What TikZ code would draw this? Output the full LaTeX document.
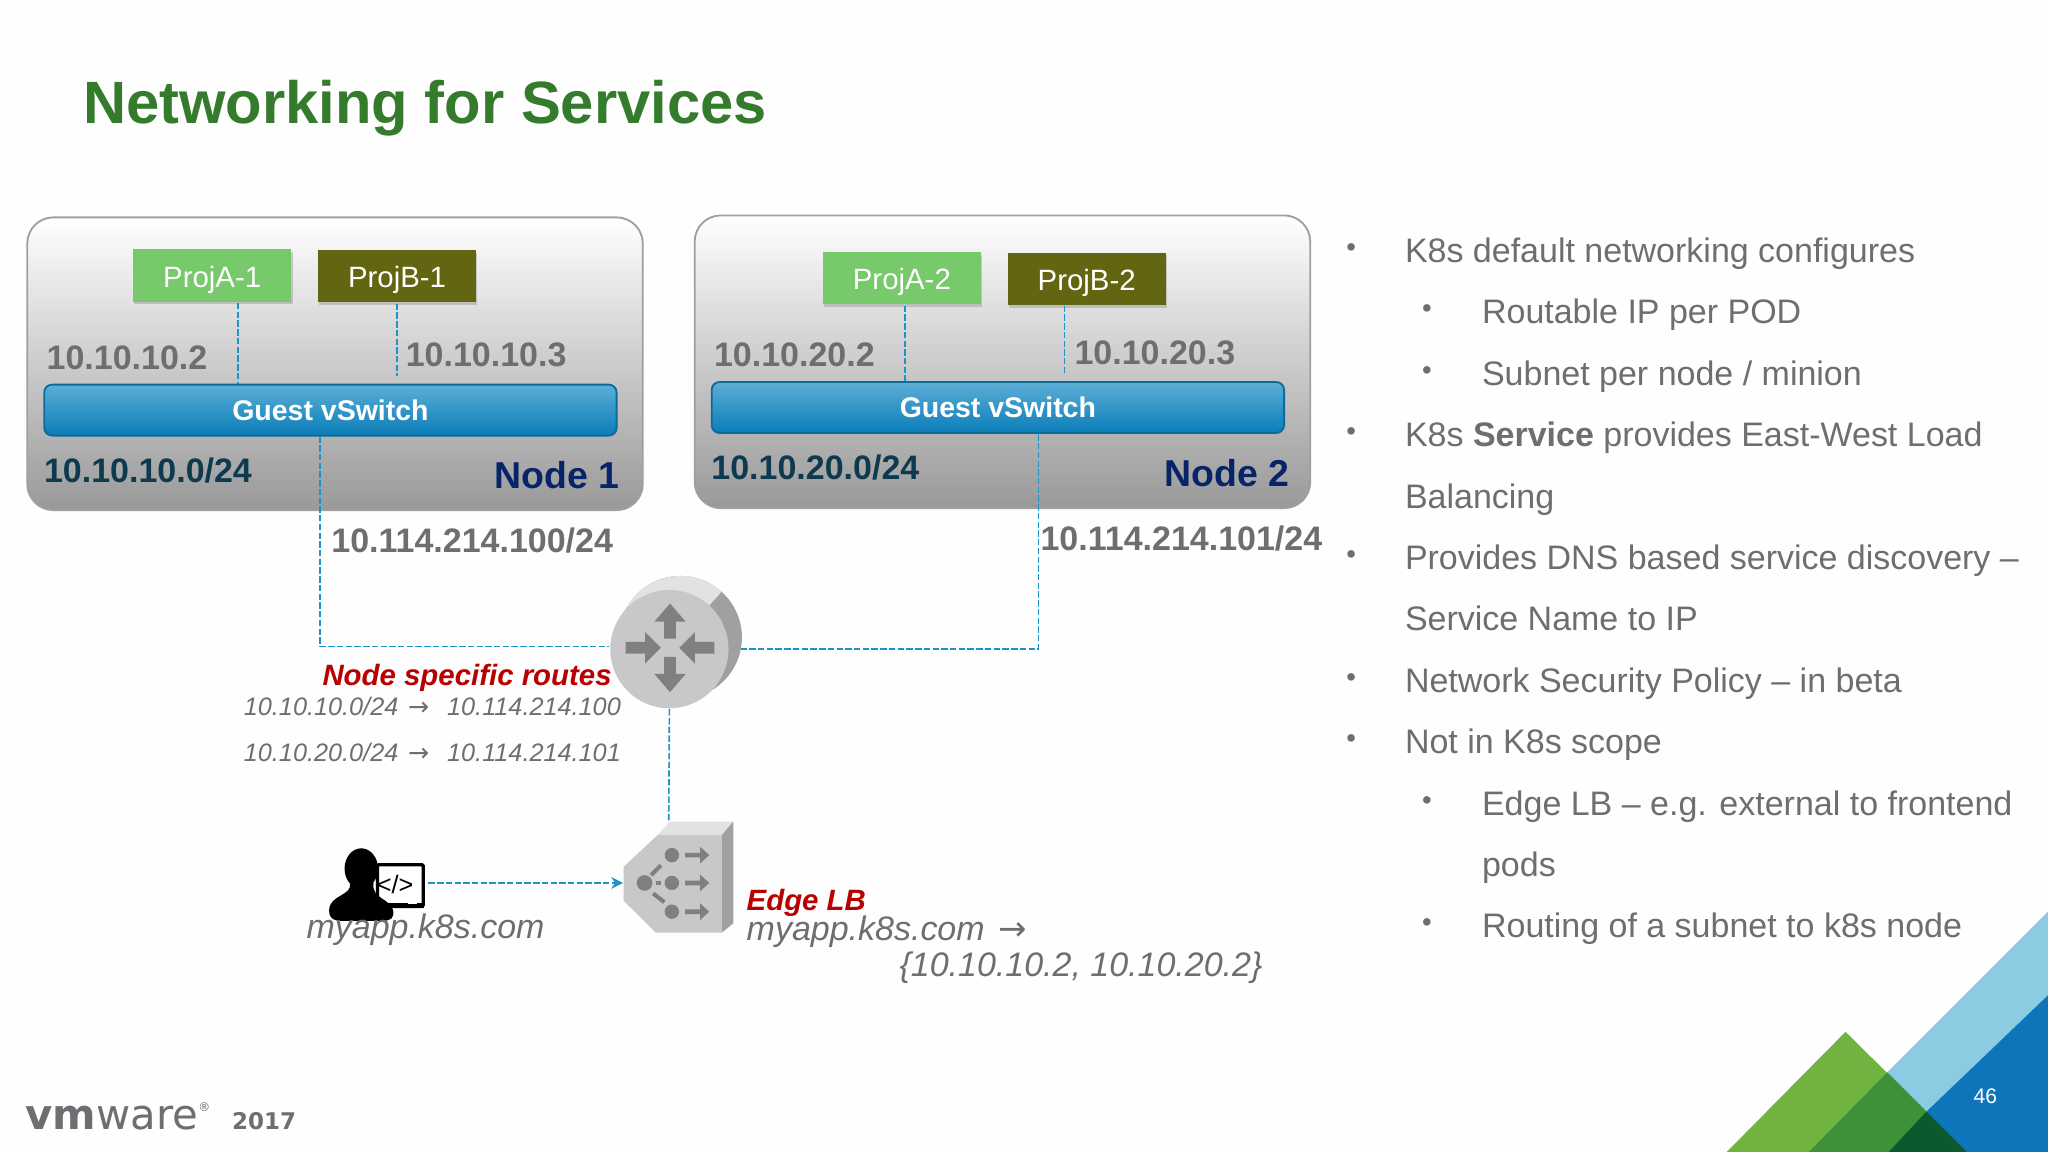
\documentclass[tikz,border=0pt]{standalone}
\usepackage{fontspec}
\setmainfont{Liberation Sans}
\newfontfamily\logofont{DejaVu Sans}
\usepackage{xcolor}
\usetikzlibrary{arrows.meta,shadows,positioning}
\definecolor{titlegreen}{RGB}{52,124,44}
\definecolor{textgray}{RGB}{109,110,113}
\definecolor{linkblue}{RGB}{28,148,200}
\definecolor{projgreen}{RGB}{120,201,107}
\definecolor{projolive}{RGB}{99,101,17}
\definecolor{subnetblue}{RGB}{13,58,78}
\definecolor{nodenavy}{RGB}{8,36,104}
\definecolor{routered}{RGB}{184,0,0}
\definecolor{iconface}{RGB}{200,200,202}
\definecolor{icondark}{RGB}{160,160,163}
\definecolor{iconlight}{RGB}{226,226,228}
\definecolor{iconmark}{RGB}{128,128,130}
\definecolor{switchtop}{RGB}{92,174,214}
\definecolor{switchbottom}{RGB}{10,125,185}
\definecolor{switchedge}{RGB}{14,106,153}
\definecolor{skyband}{RGB}{138,204,226}
\definecolor{seaband}{RGB}{14,117,187}
\definecolor{leafgreen}{RGB}{112,179,64}
\definecolor{midgreen}{RGB}{61,145,56}
\definecolor{deepgreen}{RGB}{11,90,46}
\tikzset{
  nodebox/.style={draw=gray!75, line width=0.4pt, rounded corners=0.2cm, top color=white, middle color=black!13, bottom color=black!40, minimum width=4.71cm, minimum height=2.24cm, inner sep=0},
  projbox/.style={text=white, font=\fontsize{6.4}{8}\selectfont, minimum width=1.21cm, minimum height=0.4cm, inner sep=0, text height=0.2cm, text depth=0.024cm, drop shadow={shadow xshift=0.01cm, shadow yshift=-0.02cm, opacity=0.35}},
  switchbox/.style={draw=switchedge, rounded corners=0.06cm, line width=0.4pt, top color=switchtop, bottom color=switchbottom, text=white, font=\fontsize{6.2}{8}\selectfont\bfseries, minimum width=4.38cm, minimum height=0.39cm, inner sep=0},
  iplabel/.style={text=textgray, font=\fontsize{7.4}{9}\selectfont\bfseries, anchor=west, inner sep=0},
  subnetlabel/.style={text=subnetblue, font=\fontsize{7.4}{9}\selectfont\bfseries, anchor=west, inner sep=0},
  nodelabel/.style={text=nodenavy, font=\fontsize{8.15}{10}\selectfont\bfseries, anchor=east, inner sep=0},
  netlink/.style={draw=linkblue, line width=0.35pt, dash pattern=on 1.4pt off 0.5pt},
  routetext/.style={text=textgray, font=\fontsize{5.5}{7}\selectfont\itshape, anchor=west, inner sep=0},
  hosttext/.style={text=textgray, font=\fontsize{7.4}{9}\selectfont\itshape, anchor=west, inner sep=0},
  redtext/.style={text=routered, font=\fontsize{6.4}{8}\selectfont\bfseries\itshape, inner sep=0},
  lvlcont/.style={text=textgray, font=\fontsize{7.4}{9}\selectfont, anchor=base west, inner sep=0, text height=0.24cm, text depth=0.05cm},
  lvlone/.style={lvlcont, label={[text=textgray, font=\fontsize{6}{7}\selectfont, label distance=0.36cm, inner sep=0]180:\textbullet}},
  lvltwo/.style={lvlcont, label={[text=textgray, font=\fontsize{6}{7}\selectfont, label distance=0.37cm, inner sep=0]180:\textbullet}}
}

\begin{document}
\begin{tikzpicture}[x=0.01cm, y=-0.01cm, >=Stealth]
  \useasboundingbox[fill=white!99!gray] (0,0) rectangle (1568,882);
  \node[text=titlegreen, font=\fontsize{13}{16}\selectfont\bfseries, anchor=west, inner sep=0] (title) at (63,83) {Networking for Services};

  % node boxes
  \node[nodebox] (node1) at (256.5,278.5) {};
  \node[nodebox] (node2) at (767.5,277) {};
  \node[projbox, fill=projgreen] (proja1) at (162.5,211) {ProjA-1};
  \node[projbox, fill=projolive] (projb1) at (304,211.5) {ProjB-1};
  \node[projbox, fill=projgreen] (proja2) at (690.5,213) {ProjA-2};
  \node[projbox, fill=projolive] (projb2) at (832,213.5) {ProjB-2};
  \node[switchbox] (sw1) at (253,314) {Guest vSwitch};
  \node[switchbox] (sw2) at (764,312) {Guest vSwitch};
  \node[iplabel] (ipa1) at (35,274) {10.10.10.2};
  \node[iplabel] (ipb1) at (310,272) {10.10.10.3};
  \node[iplabel] (ipa2) at (546,272) {10.10.20.2};
  \node[iplabel] (ipb2) at (822,270) {10.10.20.3};
  \node[subnetlabel] (net1) at (33,360) {10.10.10.0/24};
  \node[subnetlabel] (net2) at (544,358) {10.10.20.0/24};
  \node[nodelabel] (name1) at (475,364) {Node 1};
  \node[nodelabel] (name2) at (988,362) {Node 2};
  \node[iplabel] (up1) at (253,414) {10.114.214.100/24};
  \node[iplabel] (up2) at (796,412) {10.114.214.101/24};

  % pod links
  \coordinate (endb1) at (304,288);
  \coordinate (endb2) at (815,286);
  \draw[netlink] (182,232) -- (182,294);
  \draw[netlink] (projb1) ++(0,21) -- (endb1);
  \draw[netlink] (693,234) -- (693,292);
  \draw[netlink] (815,234) -- (endb2);

  % router
  \coordinate (routerback) at (567,497);
  \coordinate (lbtop) at (512,629);
  \coordinate (lbleft) at (477,676);
  \coordinate (userout) at (328,676);
  \fill[icondark] (521,488) circle (0.47cm);
  \fill[iconlight] (521,488) -- ++(48:0.47cm) arc (48:150:0.47cm) -- cycle;
  \node[circle, fill=iconface, minimum size=0.905cm, inner sep=0] (router) at (512.5,497) {};
  \foreach \a in {90,270}
    \fill[iconmark, shift={(513,496)}, rotate=\a] (7,-4.5) -- (20,-4.5) -- (20,-12) -- (34,0) -- (20,12) -- (20,4.5) -- (7,4.5) -- cycle;
  \foreach \a in {0,180}
    \fill[iconmark, shift={(513,496)}, rotate=\a] (34,-4.5) -- (19,-4.5) -- (19,-12) -- (7,0) -- (19,12) -- (19,4.5) -- (34,4.5) -- cycle;

  % edge load balancer
  \fill[iconlight] (503.4,639.4) -- (513,629) -- (561.4,629) -- (552.7,639.4) -- cycle;
  \fill[icondark] (552.7,639.4) -- (561.4,629) -- (561.4,707) -- (552.7,714) -- cycle;
  \fill[iconface] (477.5,663.6) -- (503.4,639.4) -- (552.7,639.4) -- (552.7,714) -- (502,714) -- (477.5,689.6) -- cycle;
  \fill[iconmark] (493.5,676) circle (0.06cm);
  \foreach \y in {654.7,676,698} {
    \fill[iconmark] (514.4,\y) circle (0.055cm);
    \fill[iconmark] (524.6,\y-1.8) -- (536,\y-1.8) -- (536,\y-6.4) -- (543,\y) -- (536,\y+6.4) -- (536,\y+1.8) -- (524.6,\y+1.8) -- cycle;
  }
  \draw[iconmark, line width=0.9pt] (506,662.5) -- (498.6,670);
  \draw[iconmark, line width=0.9pt] (502.6,676) -- (506,676);
  \draw[iconmark, line width=0.9pt] (500,684) -- (508.6,690.7);

  % uplinks
  \draw[netlink] (sw1.south -| 245,0) |- ([yshift=0.02cm]router.west);
  \draw[netlink] (routerback) -| (sw2.south -| 795,0);
  \draw[netlink] (router.south) -- (lbtop);
  \draw[netlink, -{Stealth[length=0.09cm, width=0.09cm]}] (userout) -- (lbleft);

  % routes
  \node[redtext, anchor=east] (routes) at (469,519) {Node specific routes};
  \node[routetext] (route1) at (186,541) {10.10.10.0/24 \hspace{0.02cm}{\logofont\upshape →}\ \ \hspace{0.03cm}10.114.214.100};
  \node[routetext] (route2) at (186,576) {10.10.20.0/24 \hspace{0.02cm}{\logofont\upshape →}\ \ \hspace{0.03cm}10.114.214.101};

  % user with laptop
  \draw[black, line width=0.7pt, fill=white, rounded corners=0.01cm] (289,662) rectangle (324,694);
  \fill[black] (289,691) rectangle (324.4,695);
  \fill[white] (312,690.5) rectangle (319,692.5);
  \node[font=\fontsize{5.5}{7}\selectfont, inner sep=0] (code) at (302.5,677) {</>};
  \fill[black] (276.6,665) ellipse (0.128cm and 0.155cm);
  \fill[black] (268,676) .. controls (270,686) and (252,685) .. (252,697) .. controls (252,704) and (256,705) .. (262,705) -- (293,705) .. controls (299,705) and (302,703) .. (301,697) .. controls (299,688) and (284,688) .. (286,676) -- cycle;
  \node[hosttext] (user) at (234,712) {myapp.k8s.com};
  \node[redtext, anchor=west] (edge) at (571,691) {Edge LB};
  \node[hosttext] (vip) at (571,713) {myapp.k8s.com \hspace{0.03cm}{\logofont\upshape →}};
  \node[hosttext] (pool) at (688,741) {\{10.10.10.2, 10.10.20.2\}};

  % bullets
  \node[lvlone] (b1) at (1075,201) {K8s default networking configures};
  \node[lvltwo] (b2) at (1134,248) {Routable IP per POD};
  \node[lvltwo] (b3) at (1134,295) {Subnet per node / minion};
  \node[lvlone] (b4) at (1075,342) {K8s \textbf{Service} provides East-West Load};
  \node[lvlcont] (b4b) at (1075,389) {Balancing};
  \node[lvlone] (b5) at (1075,436) {Provides DNS based service discovery –};
  \node[lvlcont] (b5b) at (1075,483) {Service Name to IP};
  \node[lvlone] (b6) at (1075,530) {Network Security Policy – in beta};
  \node[lvlone] (b7) at (1075,577) {Not in K8s scope};
  \node[lvltwo] (b8) at (1134,624) {Edge LB – e.g. external to frontend};
  \node[lvlcont] (b8b) at (1134,671) {pods};
  \node[lvltwo] (b9) at (1134,718) {Routing of a subnet to k8s node};

  % corner graphic
  \fill[skyband] (1568,698) -- (1445,821) -- (1475,851) -- (1568,762) -- cycle;
  \fill[seaband] (1568,762) -- (1475,851) -- (1506,882) -- (1568,882) -- cycle;
  \fill[leafgreen] (1322,882) -- (1413,790) -- (1506,882) -- cycle;
  \fill[midgreen] (1385,882) -- (1445,821) -- (1506,882) -- cycle;
  \fill[deepgreen] (1446,882) -- (1475,851) -- (1506,882) -- cycle;
  \node[text=white, font=\fontsize{4.6}{6}\selectfont, inner sep=0] (page) at (1520,839) {46};

  % footer
  \node[text=textgray, font=\logofont\fontsize{9.1}{10}\selectfont, anchor=base west, inner sep=0] (logo) at (19,865) {\textbf{vm}ware\raisebox{0.14cm}{\fontsize{2.6}{3}\selectfont ®}};
  \node[text=textgray, font=\logofont\fontsize{5}{7}\selectfont\bfseries, anchor=west, inner sep=0] (year) at (177,858) {2017};
\end{tikzpicture}
\end{document}
